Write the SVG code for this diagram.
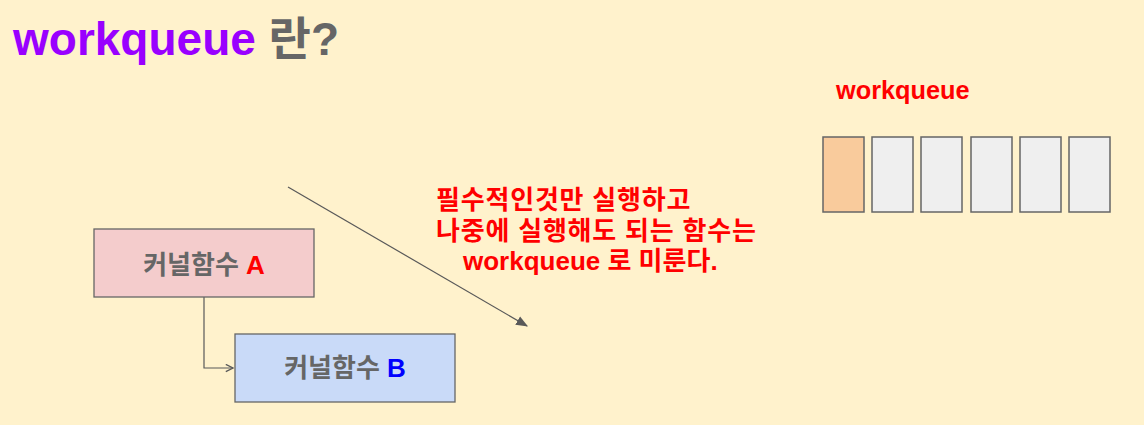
<svg xmlns="http://www.w3.org/2000/svg" width="1144" height="425" viewBox="0 0 1144 425">
<style>
text{font-family:"Liberation Sans","Noto Sans CJK KR",sans-serif;font-weight:bold}
.box{stroke:#666;stroke-width:1.3}
.q{fill:#efefef;stroke:#666;stroke-width:1.5}
.lbl{font-size:26px;fill:#666;text-anchor:middle}
.red{fill:#ff0000;font-size:26px}
.kr{letter-spacing:0.8px}
.conn{stroke:#595959;stroke-width:1.2;fill:none}
</style>
<defs>
<marker id="ah" viewBox="0 0 10 10" refX="9" refY="5" markerWidth="12" markerHeight="12" markerUnits="userSpaceOnUse" orient="auto">
<path d="M0,1 L10,5 L0,9 z" fill="#595959"/>
</marker>
<marker id="ah2" viewBox="0 0 10 10" refX="9" refY="5" markerWidth="9" markerHeight="9" markerUnits="userSpaceOnUse" orient="auto">
<path d="M1,1 L9,5 L1,9" fill="none" stroke="#595959" stroke-width="1.5"/>
</marker>
</defs>
<rect width="1144" height="425" fill="#fff2cc"/>
<g id="title"><text x="13" y="55" font-size="46"><tspan fill="#9900ff">workqueue</tspan><tspan fill="#666"> 란?</tspan></text></g>
<g id="connectors">
<path class="conn" d="M204,297 V368 H233" marker-end="url(#ah2)"/>
<path class="conn" d="M288,187 L527,326" marker-end="url(#ah)"/>
</g>
<g id="nodeA"><rect class="box" x="94" y="229" width="220" height="68" fill="#f4cccc"/><text class="lbl" x="204" y="274">커널함수 <tspan fill="#ff0000">A</tspan></text></g>
<g id="nodeB"><rect class="box" x="235" y="334" width="220" height="68" fill="#c9daf8"/><text class="lbl" x="345" y="377">커널함수 <tspan fill="#0000ff">B</tspan></text></g>
<g id="note">
<text class="red kr" x="436" y="209">필수적인것만 실행하고</text>
<text class="red kr" x="436" y="240">나중에 실행해도 되는 함수는</text>
<text class="red" x="463" y="270">workqueue 로 미룬다.</text>
</g>
<g id="queue">
<text class="red" x="836" y="99" font-size="25.3" style="font-size:25.3px">workqueue</text>
<rect class="q" x="823" y="137" width="41" height="75" style="fill:#f9cb9c"/>
<rect class="q" x="872" y="137" width="41" height="75"/>
<rect class="q" x="921" y="137" width="41" height="75"/>
<rect class="q" x="971" y="137" width="41" height="75"/>
<rect class="q" x="1020" y="137" width="41" height="75"/>
<rect class="q" x="1069" y="137" width="41" height="75"/>
</g>
</svg>
